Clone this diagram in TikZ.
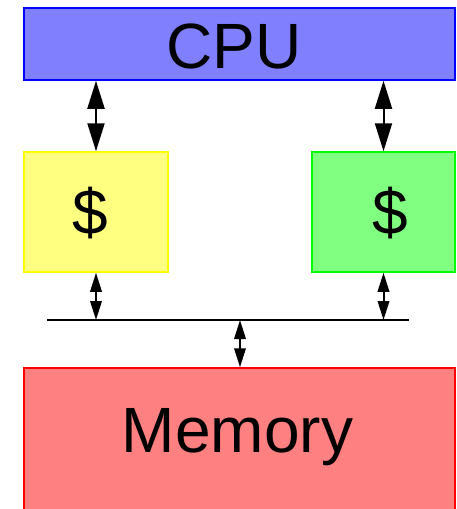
\documentclass[tikz,border=0pt]{standalone}
\usepackage{fontspec}
\setmainfont{Liberation Sans}
\usetikzlibrary{arrows.meta}
\definecolor{cpufill}{HTML}{8080FF}
\definecolor{cpuline}{HTML}{0000FF}
\definecolor{yelfill}{HTML}{FFFF80}
\definecolor{yelline}{HTML}{FFFF00}
\definecolor{grnfill}{HTML}{80FF80}
\definecolor{grnline}{HTML}{00FF00}
\definecolor{memfill}{HTML}{FF8080}
\definecolor{memline}{HTML}{FF0000}
\tikzset{
  unit/.style={rectangle, inner sep=0pt, line width=1.5pt},
  lbl/.style={anchor=base, inner sep=0pt, font=\fontsize{64}{70}\selectfont},
  bigarrow/.style={line width=2pt, {Triangle[length=28pt,width=17pt]}-{Triangle[length=28pt,width=17pt]}},
  smallarrow/.style={line width=2pt, {Triangle[length=19pt,width=11.5pt]}-{Triangle[length=19pt,width=11.5pt]}},
  busline/.style={line width=2pt}
}
\begin{document}
\begin{tikzpicture}[x=1pt,y=-1pt]
  \useasboundingbox (0,0) rectangle (456,509);
  \clip (0,0) rectangle (456,509);

  % processor, two caches and main memory
  \node[unit, draw=cpuline, fill=cpufill, minimum width=431pt, minimum height=72pt] (cpu) at (239.5,44) {};
  \node[unit, draw=yelline, fill=yelfill, minimum width=144pt, minimum height=120pt] (c1) at (96,212) {};
  \node[unit, draw=grnline, fill=grnfill, minimum width=143pt, minimum height=120pt] (c2) at (383.5,212) {};
  \node[unit, draw=memline, fill=memfill, minimum width=431pt, minimum height=172pt] (mem) at (239.5,454) {};

  % labels
  \node[lbl] (cputxt) at (234,68) {CPU};
  \node[lbl] (c1txt) at (90,234) {\$};
  \node[lbl] (c2txt) at (390,234) {\$};
  \node[lbl] (memtxt) at (237.5,452) {Memory};

  % shared bus
  \coordinate (busL) at (47,320);
  \coordinate (busR) at (409,320);
  \coordinate (busM) at (240,320);
  \draw[busline] (busL) -- (busR);

  % connections
  \draw[bigarrow] (cpu.south -| c1) -- (c1.north);
  \draw[bigarrow] (cpu.south -| c2) -- (c2.north);
  \draw[smallarrow] (c1.south) -- (c1.south |- busL);
  \draw[smallarrow] (c2.south) -- (c2.south |- busR);
  \draw[smallarrow] (busM) -- (busM |- mem.north);
\end{tikzpicture}
\end{document}
